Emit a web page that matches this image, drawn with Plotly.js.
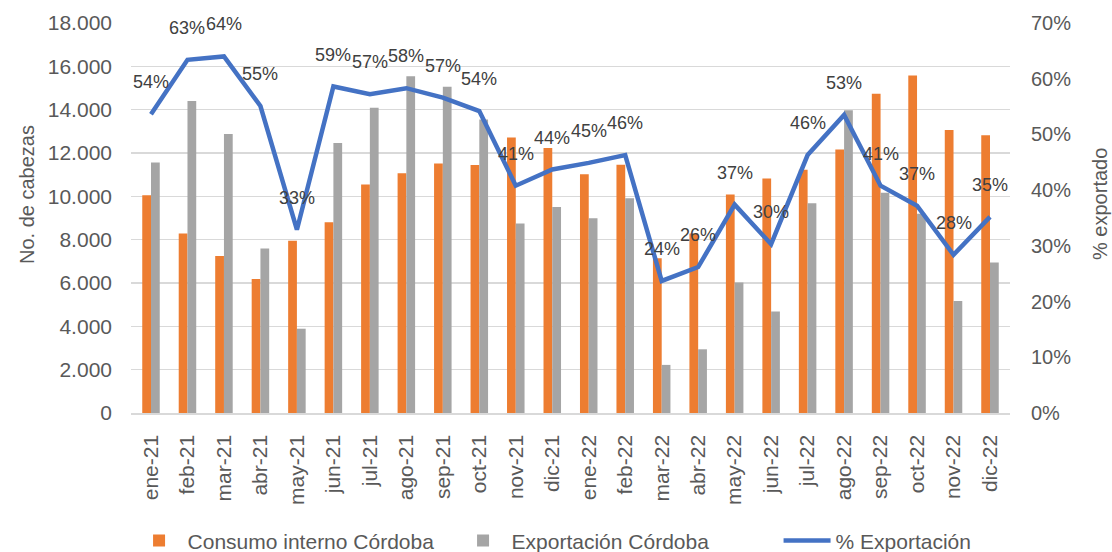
<!DOCTYPE html>
<html>
<head>
<meta charset="utf-8">
<script src="https://cdn.plot.ly/plotly-3.0.1.min.js"></script>
<style>html,body{margin:0;padding:0;background:#fff;}#chart{width:1112px;height:552px;}</style>
</head>
<body>
<div id="chart"></div>
<script>
const months = ["ene-21","feb-21","mar-21","abr-21","may-21","jun-21","jul-21","ago-21","sep-21","oct-21","nov-21","dic-21",
                "ene-22","feb-22","mar-22","abr-22","may-22","jun-22","jul-22","ago-22","sep-22","oct-22","nov-22","dic-22"];
const consumoInterno = [10050,8280,7250,6180,7950,8800,10550,11060,11510,11450,12710,12230,
                        11020,11460,7140,8290,10080,10820,11230,12160,14740,15580,13060,12820];
const exportacion = [11560,14400,12880,7590,3890,12460,14090,15540,15060,13550,8750,9510,
                     8990,9910,2220,2940,6020,4690,9680,13970,10170,9200,5170,6950];
const pctExport = [53.6,63.4,64.0,55.1,32.9,58.6,57.2,58.3,56.6,54.2,40.8,43.7,
                   44.9,46.3,23.7,26.2,37.4,30.3,46.3,53.5,40.8,37.2,28.4,35.2];
const pctLabels = ["54%","63%","64%","55%","33%","59%","57%","58%","57%","54%","41%","44%",
                   "45%","46%","24%","26%","37%","30%","46%","53%","41%","37%","28%","35%"];
const leftTitle = "No. de cabezas";
const rightTitle = "% exportado";

const FONT = "Liberation Sans, Arial, sans-serif";
const TXT = "#595959";

const traces = [
  {type:"bar", name:"Consumo interno Córdoba", x:months, y:consumoInterno, marker:{color:"#ED7D31"}, hoverinfo:"skip"},
  {type:"bar", name:"Exportación Córdoba", x:months, y:exportacion, marker:{color:"#A5A5A5"}, hoverinfo:"skip"},
  {type:"scatter", mode:"lines", name:"% Exportación", x:months, y:pctExport, yaxis:"y2",
   line:{color:"#4472C4", width:4.5}, hoverinfo:"skip"}
];

const annotations = months.map((m,i)=>({
  x:m, y:pctExport[i], xref:"x", yref:"y2", text:pctLabels[i], showarrow:false,
  yshift:32, font:{family:FONT, size:18, color:"#404040"}
}));
annotations.push({xref:"paper", yref:"paper", x:-0.1183, y:0.559, text:leftTitle, textangle:-90, showarrow:false,
  xanchor:"center", yanchor:"middle", font:{family:FONT, size:20, color:TXT}});
annotations.push({xref:"paper", yref:"paper", x:1.1024, y:0.536, text:rightTitle, textangle:-90, showarrow:false,
  xanchor:"center", yanchor:"middle", font:{family:FONT, size:20, color:TXT}});

const layout = {
  width:1112, height:552,
  margin:{l:131, r:102, t:23, b:139, autoexpand:false},
  paper_bgcolor:"#fff", plot_bgcolor:"#fff",
  separators:",.",
  font:{family:FONT, size:18, color:TXT},
  barmode:"group", bargap:0.52, bargroupgap:0,
  xaxis:{type:"category", tickangle:-90, showgrid:false, showline:true, linecolor:"#d9d9d9", linewidth:1.5,
         ticks:"", automargin:false, ticklabelstandoff:12,
         tickfont:{family:FONT, size:21, color:TXT}},
  yaxis:{range:[0,18000], dtick:2000, tickformat:",d", showgrid:true, gridcolor:"#d9d9d9", gridwidth:1.5,
         zeroline:false, ticks:"", automargin:false, ticklabelstandoff:18,
         tickfont:{family:FONT, size:21, color:TXT}},
  yaxis2:{range:[0,70], dtick:10, ticksuffix:"%", overlaying:"y", side:"right", showgrid:false, zeroline:false,
          ticks:"", automargin:false, ticklabelstandoff:20,
          tickfont:{family:FONT, size:20, color:TXT}},
  legend:{orientation:"h", x:-0.0005, xanchor:"left", y:-0.328, yanchor:"middle",
          itemwidth:47, entrywidth:262, entrywidthmode:"pixels",
          font:{family:FONT, size:21, color:TXT}, traceorder:"normal"},
  annotations:annotations,
  showlegend:true
};

Plotly.newPlot("chart", traces, layout, {displayModeBar:false, staticPlot:true});
</script>
</body>
</html>
